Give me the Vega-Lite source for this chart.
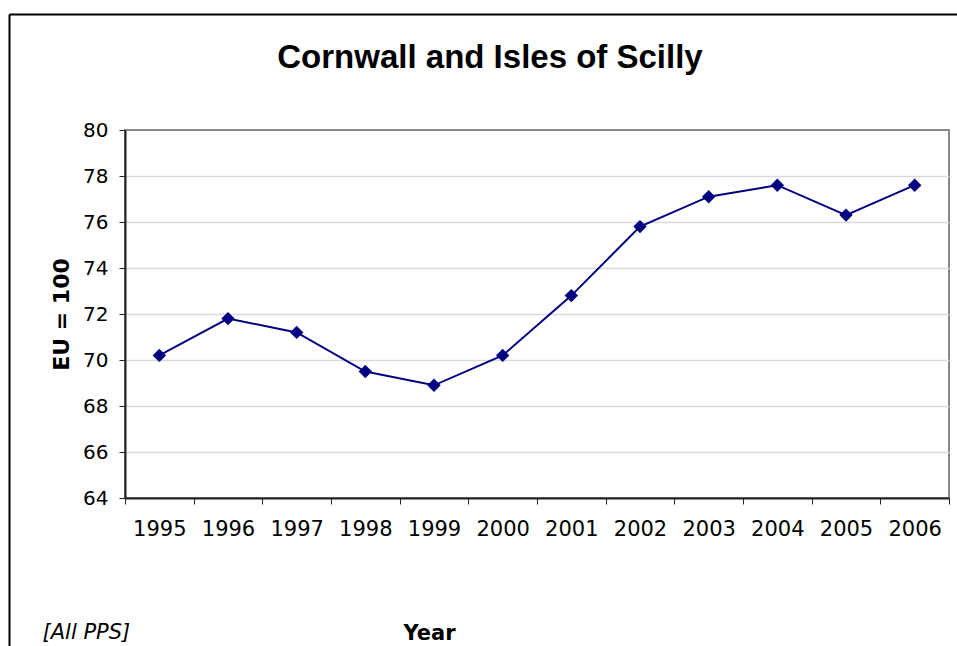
{
  "$schema": "https://vega.github.io/schema/vega-lite/v6.json",
  "width": 824,
  "height": 368,
  "autosize": "none",
  "padding": {"left": 125, "top": 130, "right": 8, "bottom": 148},
  "background": "white",
  "config": {
    "view": {"stroke": "#888888", "strokeWidth": 2},
    "font": "DejaVu Sans"
  },
  "title": {
    "text": "Cornwall and Isles of Scilly",
    "font": "Liberation Sans",
    "fontSize": 33,
    "fontWeight": "bold",
    "color": "#000000",
    "anchor": "middle",
    "frame": "group",
    "baseline": "alphabetic",
    "offset": -87,
    "dx": -47
  },
  "data": {
    "values": [
      {"year": "1995", "value": 70.2},
      {"year": "1996", "value": 71.8},
      {"year": "1997", "value": 71.2},
      {"year": "1998", "value": 69.5},
      {"year": "1999", "value": 68.9},
      {"year": "2000", "value": 70.2},
      {"year": "2001", "value": 72.8},
      {"year": "2002", "value": 75.8},
      {"year": "2003", "value": 77.1},
      {"year": "2004", "value": 77.6},
      {"year": "2005", "value": 76.3},
      {"year": "2006", "value": 77.6}
    ]
  },
  "layer": [
    {
      "mark": {"type": "point", "opacity": 0},
      "encoding": {
        "x": {
          "field": "year",
          "type": "ordinal",
          "scale": {"type": "band", "range": [-116, 900]},
          "axis": {
            "orient": "top",
            "offset": 116,
            "labels": false,
            "ticks": false,
            "grid": false,
            "title": null,
            "domainColor": "#000000",
            "domainWidth": 2
          }
        },
        "y": {
          "field": "value",
          "type": "quantitative",
          "scale": {"domain": [64, 80], "range": [700, -116], "zero": false},
          "axis": {
            "orient": "left",
            "offset": 116,
            "labels": false,
            "ticks": false,
            "grid": false,
            "domainColor": "#000000",
            "domainWidth": 2,
            "title": "[All PPS]",
            "titleFont": "DejaVu Sans",
            "titleFontSize": 21,
            "titleFontStyle": "italic",
            "titleFontWeight": "normal",
            "titleColor": "#000000",
            "titleAngle": 0,
            "titleAlign": "left",
            "titleBaseline": "alphabetic",
            "titleX": 33,
            "titleY": 508
          }
        }
      }
    },
    {
      "encoding": {
        "x": {
          "field": "year",
          "type": "ordinal",
          "scale": {"type": "band", "paddingInner": 0, "paddingOuter": 0},
          "axis": {
            "orient": "bottom",
            "labelAngle": 0,
            "tickBand": "extent",
            "tickSize": 6,
            "tickColor": "#222222",
            "domainColor": "#222222",
            "domainWidth": 2,
            "labelFont": "DejaVu Sans",
            "labelFontSize": 21,
            "labelColor": "#000000",
            "labelPadding": 14,
            "grid": false,
            "title": "Year",
            "titleFont": "DejaVu Sans",
            "titleFontSize": 21,
            "titleFontWeight": "bold",
            "titleColor": "#000000",
            "titleAlign": "center",
            "titleBaseline": "alphabetic",
            "titleX": 304,
            "titleY": 141
          }
        },
        "y": {
          "field": "value",
          "type": "quantitative",
          "scale": {"domain": [64, 80], "zero": false},
          "axis": {
            "orient": "left",
            "values": [64, 66, 68, 70, 72, 74, 76, 78, 80],
            "tickSize": 6,
            "tickColor": "#222222",
            "domainColor": "#222222",
            "domainWidth": 2,
            "labelFont": "DejaVu Sans",
            "labelFontSize": 20,
            "labelColor": "#000000",
            "labelPadding": 11,
            "grid": true,
            "gridColor": "#d9d9d9",
            "gridWidth": 1.5,
            "gridOpacity": {"condition": {"test": "datum.value >= 80 || datum.value <= 64", "value": 0}, "value": 1},
            "title": "EU = 100",
            "titleFont": "DejaVu Sans",
            "titleFontSize": 22,
            "titleFontWeight": "bold",
            "titleColor": "#000000",
            "titleBaseline": "middle",
            "titleX": -64,
            "titleY": 184
          }
        }
      },
      "layer": [
        {"mark": {"type": "line", "color": "#000080", "strokeWidth": 2}},
        {"mark": {"type": "point", "shape": "diamond", "filled": true, "size": 180, "color": "#000080", "opacity": 1}}
      ]
    }
  ],
  "resolve": {"scale": {"x": "independent", "y": "independent"}}
}
